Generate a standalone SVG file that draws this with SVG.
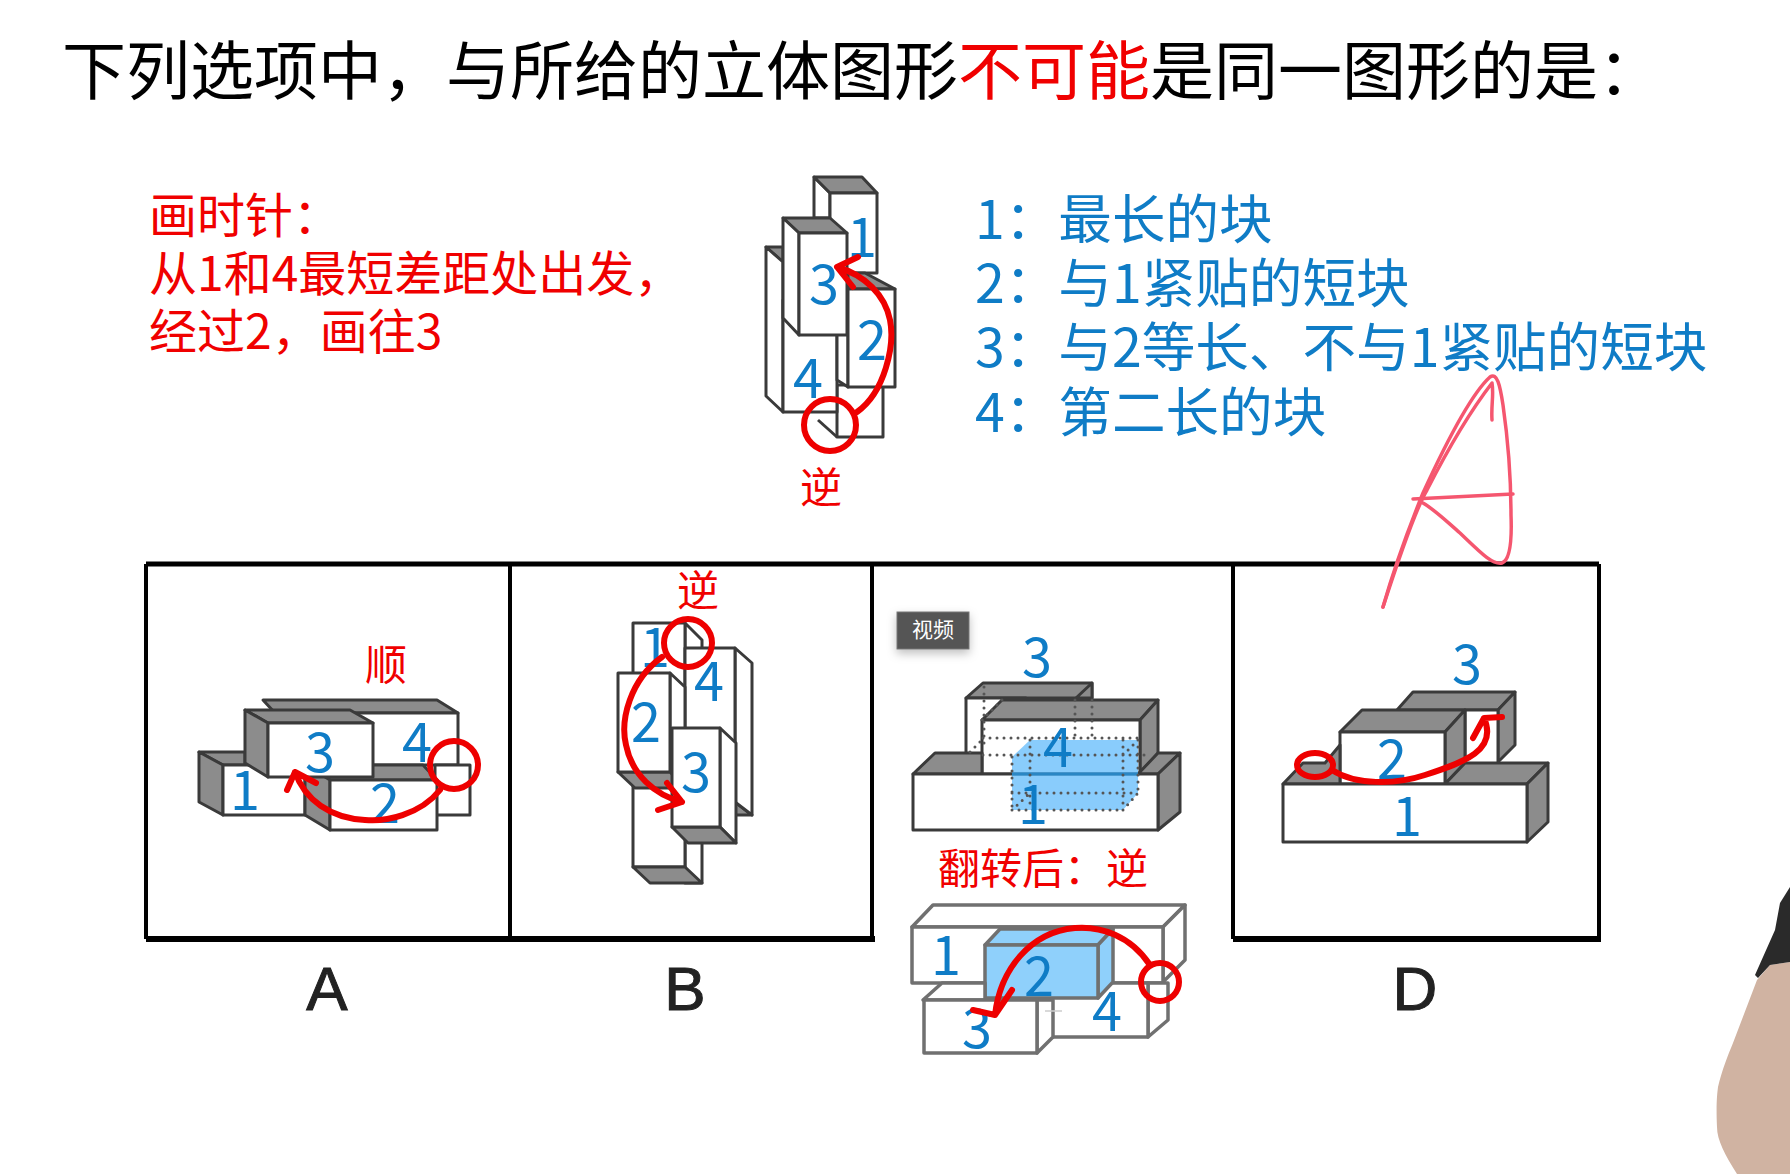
<svg xmlns="http://www.w3.org/2000/svg" width="1790" height="1174" viewBox="0 0 1790 1174">
<style>
text{font-family:"Noto Sans CJK SC","Liberation Sans",sans-serif}
.w{fill:#fff;stroke:#3a3a3a;stroke-width:3;stroke-linejoin:round}
.g{fill:#8c8c8c;stroke:#3a3a3a;stroke-width:3;stroke-linejoin:round}
.lw{fill:#fff;stroke:#707070;stroke-width:3.5;stroke-linejoin:round}
.lb{fill:#8fd0fb;stroke:#707070;stroke-width:3.5;stroke-linejoin:round}
.n{fill:#0f7cc6;font-size:54px;text-anchor:middle}
.r{fill:#f00000;font-size:42px}
.rl{fill:#f00000;font-size:48px}
.bl{fill:#0f7cc6;font-size:53.6px}
.h{fill:#000;font-size:64px}
.arc{fill:none;stroke:#ee0000;stroke-width:6;stroke-linecap:round;stroke-linejoin:round}
.dot{fill:none;stroke:#555;stroke-width:3;stroke-dasharray:0 7;stroke-linecap:round}
.pink{fill:none;stroke:#f5566f;stroke-width:3.5;stroke-linecap:round;stroke-linejoin:round}
.ltr{font-family:"Liberation Sans",sans-serif;font-size:62px;fill:#222;stroke:#222;stroke-width:1;text-anchor:middle}
</style>
<defs><filter id="sh" x="-30%" y="-30%" width="160%" height="170%"><feDropShadow dx="0" dy="4" stdDeviation="5" flood-color="#000" flood-opacity=".25"/></filter></defs>
<rect width="1790" height="1174" fill="#fff"/>

<g id="title"><text class="h" x="62" y="94">下列选项中，与所给的立体图形<tspan fill="#f00000">不可能</tspan>是同一图形的是：</text></g>

<g id="note-left">
<text class="rl" x="149" y="233">画时针：</text>
<text class="rl" x="149" y="291">从1和4最短差距处出发，</text>
<text class="rl" x="149" y="349">经过2，画往3</text>
</g>
<g id="note-right">
<text class="bl" x="975" y="239">1：最长的块</text>
<text class="bl" x="975" y="303">2：与1紧贴的短块</text>
<text class="bl" x="975" y="367">3：与2等长、不与1紧贴的短块</text>
<text class="bl" x="975" y="432">4：第二长的块</text>
</g>

<g id="frame" fill="none" stroke="#000">
<path d="M146 564H1599" stroke-width="5"/>
<path d="M146 939H875M1233 939H1601" stroke-width="6"/>
<path d="M146 564V939M510 564V939M872 564V939M1233 564V939M1599 564V939" stroke-width="4"/>
</g>

<g id="figure-top">
<rect class="w" x="837" y="385" width="46" height="52"/>
<path class="w" d="M814 177L830 193V218H814Z"/>
<path class="g" d="M814 177H862L877 193H830Z"/>
<rect class="w" x="830" y="193" width="47" height="80"/>
<path class="g" d="M766 247H783V262Z"/>
<path class="w" d="M766 247L783 262V412L766 396Z"/>
<rect class="w" x="783" y="300" width="54" height="112"/>
<path class="w" d="M837 273L848 289V387L837 380Z"/>
<path class="g" d="M848 273H865L895 289H848Z"/>
<rect class="w" x="848" y="289" width="47" height="98"/>
<path fill="none" stroke="#3a3a3a" stroke-width="3" d="M818 420L837 437"/>
<path class="g" d="M783 218H830L847 233H799Z"/>
<path class="w" d="M783 218L799 233V335L783 318Z"/>
<rect class="w" x="799" y="233" width="48" height="102"/>
<text class="n" x="862" y="257">1</text>
<text class="n" x="872" y="360">2</text>
<text class="n" x="824" y="304">3</text>
<text class="n" x="808" y="398">4</text>
<text class="r" x="800" y="503">逆</text>
</g>

<g id="option-a">
<path class="g" d="M263 700H437L458 713H275Z"/>
<rect class="w" x="350" y="713" width="108" height="52"/>
<rect class="w" x="435" y="765" width="35" height="50"/>
<path class="g" d="M199 752H245V765H223Z"/>
<path class="g" d="M199 752L223 765V815L199 802Z"/>
<rect class="w" x="223" y="765" width="82" height="50"/>
<path class="g" d="M305 765H423L437 780H330Z"/>
<path class="g" d="M305 765L330 780V830L305 815Z"/>
<rect class="w" x="330" y="780" width="107" height="50"/>
<path class="g" d="M245 710H350L373 723H268Z"/>
<path class="g" d="M245 710L268 723V777L245 763Z"/>
<rect class="w" x="268" y="723" width="105" height="54"/>
<text class="n" x="320" y="772">3</text>
<text class="n" x="417" y="762">4</text>
<text class="n" x="245" y="810">1</text>
<text class="n" x="385" y="823">2</text>
<text class="r" x="365" y="680">顺</text>
</g>

<g id="option-b">
<path class="w" d="M685 623L702 640V883H685Z"/>
<rect class="w" x="633" y="623" width="52" height="244"/>
<path class="g" d="M633 867H685L702 883H650Z"/>
<path class="g" d="M735 802L752 815H735Z"/>
<path class="w" d="M735 648L752 663V815L735 802Z"/>
<rect class="w" x="685" y="648" width="50" height="160"/>
<path class="w" d="M670 673L685 687V775H670Z"/>
<path class="g" d="M618 772H670L685 788H635Z"/>
<rect class="w" x="618" y="673" width="52" height="99"/>
<path class="w" d="M720 728L736 743V843L720 827Z"/>
<path class="g" d="M672 827H720L736 843H688Z"/>
<rect class="w" x="672" y="728" width="48" height="99"/>
<text class="n" x="655" y="667">1</text>
<text class="n" x="709" y="701">4</text>
<text class="n" x="646" y="742">2</text>
<text class="n" x="696" y="792">3</text>
<text class="r" x="677" y="606">逆</text>
</g>

<g id="option-c-upper">
<path class="g" d="M983 683H1092V698H966Z"/>
<path class="g" d="M1076 698L1092 683V698Z"/>
<rect class="w" x="966" y="698" width="60" height="60"/>
<path class="g" d="M1002 700H1158L1140 720H982Z"/>
<path class="g" d="M1158 700V753L1140 773V720Z"/>
<rect class="w" x="982" y="720" width="158" height="54"/>
<path class="g" d="M935 753H982V774H913Z"/>
<path class="g" d="M1138 774L1158 753H1180L1158 774Z"/>
<path class="g" d="M1158 774L1180 753V812L1158 830Z"/>
<rect class="w" x="913" y="774" width="245" height="56"/>
<path fill="#5cb8fb" fill-opacity=".72" d="M1030 740H1138V793L1123 810H1012V757Z"/>
<path fill="none" stroke="#2a86c4" stroke-width="3" d="M1012 774H1138"/>
<path class="dot" d="M1075 700V740M1092 700V740M984 687V747M1002 700L982 720M970 752L982 740"/>
<path class="dot" d="M983 738H1138M983 755H1147M1012 793H1138M1012 810H1123M1012 757V810M1030 740V810M1123 740V810M1138 740V793M1012 810L1030 793M1123 810L1138 793M1138 740L1123 755"/>
<text class="n" x="1037" y="677">3</text>
<text class="n" x="1058" y="767">4</text>
<text class="n" x="1033" y="824">1</text>
</g>
<g id="video-badge">
<rect x="897" y="612" width="72" height="37" fill="#555" stroke="#777" filter="url(#sh)"/>
<text x="933" y="637" fill="#fff" font-size="21" text-anchor="middle">视频</text>
</g>
<g id="option-c-lower">
<text class="r" x="938" y="884">翻转后：逆</text>
<path class="lw" d="M912 927L933 905H1185L1163 927Z"/>
<path class="lw" d="M1163 927L1185 905V960L1163 982Z"/>
<rect class="lw" x="912" y="927" width="251" height="56"/>
<path class="lw" d="M1148 983H1168V1020L1148 1037Z"/>
<rect class="lw" x="1052" y="983" width="96" height="54"/>
<path class="lb" d="M985 945L1000 929H1113L1098 945Z"/>
<path class="lb" d="M1098 945L1113 929V982L1098 998Z"/>
<rect class="lb" x="985" y="945" width="113" height="53"/>
<path class="lw" d="M923 1000L942 983H985V1000Z"/>
<path class="lw" d="M1037 1000H1053V1037L1037 1053Z"/>
<rect class="lw" x="924" y="1000" width="113" height="53"/>
<path fill="none" stroke="#ccc" stroke-width="1.5" d="M1045 1011H1062"/>
<text class="n" x="946" y="975">1</text>
<text class="n" x="1039" y="996">2</text>
<text class="n" x="977" y="1048">3</text>
<text class="n" x="1107" y="1031">4</text>
</g>

<g id="option-d">
<path class="g" d="M1413 692H1515L1498 710H1397Z"/>
<path class="g" d="M1515 692V745L1498 762V710Z"/>
<rect class="w" x="1465" y="710" width="33" height="54"/>
<path class="g" d="M1362 710H1465L1445 732H1340Z"/>
<path class="g" d="M1465 710V763L1445 784V732Z"/>
<rect class="w" x="1340" y="732" width="105" height="52"/>
<path class="g" d="M1283 784L1303 763H1325L1340 745V784Z"/>
<path class="g" d="M1445 784L1465 763H1548L1527 784Z"/>
<path class="g" d="M1527 784L1548 763V822L1527 842Z"/>
<rect class="w" x="1283" y="784" width="244" height="58"/>
<text class="n" x="1467" y="684">3</text>
<text class="n" x="1392" y="779">2</text>
<text class="n" x="1407" y="836">1</text>
</g>

<g id="labels">
<text class="ltr" x="327" y="1010">A</text>
<text class="ltr" x="685" y="1010">B</text>
<text class="ltr" x="1415" y="1010">D</text>
</g>

<g id="connectors">
<circle class="arc" cx="830" cy="425" r="26"/>
<path class="arc" d="M857 412C885 392 895 345 890 320C885 295 865 275 837 267M858 257L837 267L853 287"/>
<circle class="arc" cx="454" cy="765" r="24"/>
<path class="arc" d="M440 790C420 815 385 822 365 820C330 818 305 800 295 772M287 790L295 772L316 783"/>
<circle class="arc" cx="688" cy="643" r="24"/>
<path class="arc" d="M662 657C630 680 620 720 626 745C632 775 655 795 682 802M667 783L682 802L658 810"/>
<circle class="arc" cx="1160" cy="982" r="19"/>
<path class="arc" d="M1150 965C1130 935 1100 926 1075 928C1030 932 1000 970 995 1015M973 1010L995 1015L1012 990"/>
<ellipse class="arc" cx="1315" cy="765" rx="18" ry="12"/>
<path class="arc" d="M1332 770C1355 785 1395 785 1425 775C1465 762 1498 750 1484 718M1473 738L1484 718L1502 717"/>
</g>

<g id="scribble">
<path class="pink" d="M1383 607C1395 565 1410 525 1423 493C1445 445 1470 395 1490 377C1497 372 1500 385 1503 405C1508 440 1511 480 1511 515C1512 540 1510 560 1502 563C1492 565 1480 552 1460 533C1445 520 1435 510 1423 503"/>
<path class="pink" d="M1383 607C1395 570 1415 510 1427 490C1450 445 1475 405 1492 383C1494 395 1491 405 1492 420"/>
<path class="pink" d="M1413 499L1513 494"/>
</g>

<g id="presenter-hand">
<path fill="#d0b3a2" d="M1757 980L1770 965L1790 962V1174H1737C1725 1155 1717 1140 1717 1127C1716 1105 1717 1095 1718 1087C1722 1070 1728 1055 1733 1043Z"/>
<path fill="#2a2a2a" d="M1790 887L1780 903L1775 930L1755 975L1758 978L1770 965L1790 962Z"/>
</g>
</svg>
